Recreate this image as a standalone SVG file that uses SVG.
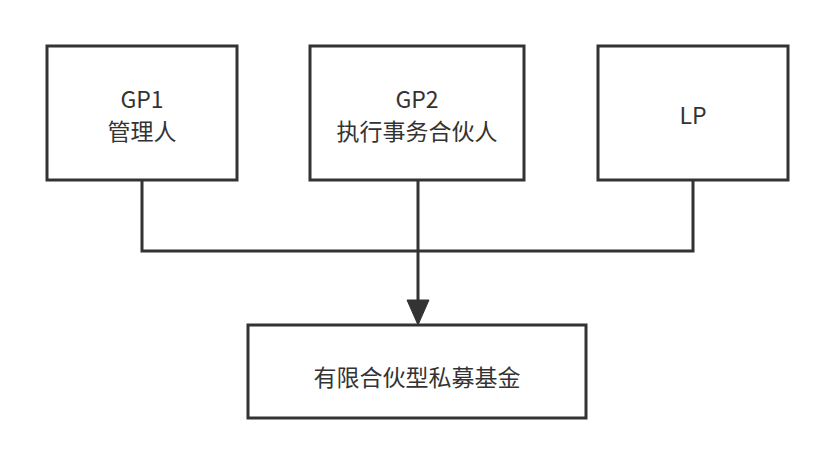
<svg xmlns="http://www.w3.org/2000/svg" width="835" height="468" viewBox="0 0 835 468">
<style>
.b{fill:#fff;stroke:#333;stroke-width:3}
.t{font-family:"Noto Sans CJK SC","Noto Sans",sans-serif;font-size:23px;fill:#333;text-anchor:middle}
.c{fill:none;stroke:#333;stroke-width:3}
</style>
<rect width="835" height="468" fill="#fff"/>
<g id="gp1"><rect class="b" x="47" y="46" width="190" height="134"/><text class="t" x="142" y="108">GP1</text><text class="t" x="142" y="140">管理人</text></g>
<g id="gp2"><rect class="b" x="310" y="46" width="214" height="134"/><text class="t" x="417" y="108">GP2</text><text class="t" x="417" y="140">执行事务合伙人</text></g>
<g id="lp"><rect class="b" x="598" y="46" width="190" height="134"/><text class="t" x="693" y="124">LP</text></g>
<g id="fund"><rect class="b" x="248" y="325" width="338" height="93"/><text class="t" x="417" y="386">有限合伙型私募基金</text></g>
<g id="connectors">
<path class="c" d="M142 180V251H693V180"/>
<path class="c" d="M418 180V302"/>
<path d="M407 300L429 300L418 325Z" fill="#333" stroke="#333" stroke-width="1"/>
</g>
</svg>
